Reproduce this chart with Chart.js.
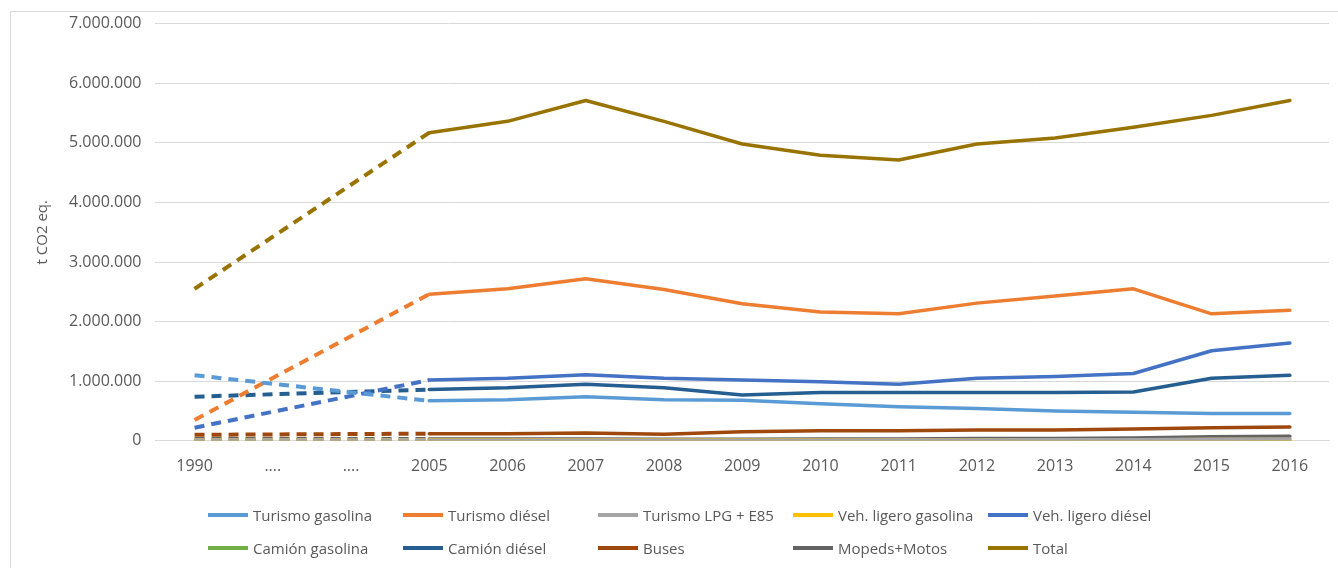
<!DOCTYPE html>
<html>
<head>
<meta charset="utf-8">
<script src="https://cdn.jsdelivr.net/npm/chart.js@4/dist/chart.umd.min.js"></script>
<style>
  html, body { margin: 0; padding: 0; background: #fff; }
  #wrap { position: relative; width: 1338px; height: 568px; overflow: hidden; }
  #frame { position: absolute; left: 10px; top: 11px; width: 1400px; height: 600px; border: 1px solid #d9d9d9; box-sizing: border-box; }
  #chartBox { position: absolute; left: 0; top: 0; width: 1338px; height: 568px; }
  #legend { position: absolute; left: 208px; top: 503px; width: 1120px; font-family: "Open Sans", sans-serif; font-size: 15px; color: #595959; }
  .item { position: absolute; white-space: nowrap; display: flex; align-items: center; height: 24px; }
  .swatch { display: inline-block; width: 40px; height: 4px; margin-right: 5px; }
</style>
</head>
<body>
<div id="wrap">
  <div id="frame"></div>
  <div id="chartBox"><canvas id="co2Chart"></canvas></div>
  <div id="legend"></div>
</div>
<script>
// Categories (the two "...." columns have no data, the line spans them dashed)
const years = ['1990', '....', '....', '2005', '2006', '2007', '2008', '2009', '2010', '2011', '2012', '2013', '2014', '2015', '2016'];

// t CO2 eq. per vehicle type
const turismoGasolina   = [1100000, null, null, 670000, 690000, 740000, 690000, 680000, 620000, 570000, 540000, 500000, 480000, 460000, 460000];
const turismoDiesel     = [350000, null, null, 2460000, 2550000, 2720000, 2540000, 2300000, 2160000, 2130000, 2310000, 2430000, 2550000, 2130000, 2190000];
const turismoLPG        = [8000, null, null, 8000, 9000, 10000, 10000, 10000, 10000, 12000, 14000, 16000, 18000, 25000, 30000];
const vehLigeroGasolina = [15000, null, null, 15000, 15000, 15000, 14000, 14000, 13000, 13000, 13000, 14000, 14000, 20000, 22000];
const vehLigeroDiesel   = [220000, null, null, 1020000, 1050000, 1110000, 1050000, 1020000, 990000, 950000, 1050000, 1080000, 1130000, 1510000, 1640000];
const camionGasolina    = [5000, null, null, 5000, 5000, 5000, 5000, 5000, 5000, 5000, 5000, 5000, 5000, 5000, 5000];
const camionDiesel      = [740000, null, null, 860000, 890000, 950000, 890000, 770000, 810000, 810000, 810000, 810000, 820000, 1050000, 1100000];
const buses             = [100000, null, null, 120000, 120000, 130000, 110000, 150000, 170000, 170000, 180000, 180000, 200000, 220000, 230000];
const mopedsMotos       = [30000, null, null, 30000, 30000, 30000, 25000, 25000, 30000, 30000, 40000, 40000, 45000, 70000, 75000];
const total             = [2550000, null, null, 5170000, 5360000, 5710000, 5360000, 4980000, 4790000, 4710000, 4980000, 5080000, 5260000, 5460000, 5710000];

const seriesLabels = ['Turismo gasolina', 'Turismo diésel', 'Turismo LPG + E85', 'Veh. ligero gasolina', 'Veh. ligero diésel',
                      'Camión gasolina', 'Camión diésel', 'Buses', 'Mopeds+Motos', 'Total'];
const seriesData = [turismoGasolina, turismoDiesel, turismoLPG, vehLigeroGasolina, vehLigeroDiesel,
                    camionGasolina, camionDiesel, buses, mopedsMotos, total];
const seriesColors = ['#5B9BD5', '#ED7D31', '#A5A5A5', '#FFC000', '#4472C4',
                      '#70AD47', '#255E91', '#9E480E', '#636363', '#997300'];

const yTicks = [0, 1000000, 2000000, 3000000, 4000000, 5000000, 6000000, 7000000];

// Format with dots as thousands separator
function fmt(v) {
    return String(v).replace(/\B(?=(\d{3})+(?!\d))/g, '.');
}

// dashed part = the span from 1990 to 2005
function isDashed(c) {
    return c.p1DataIndex <= 3;
}

Chart.defaults.font.family = '"Open Sans", sans-serif';
Chart.defaults.color = '#595959';

const ctx = document.getElementById('co2Chart').getContext('2d');
new Chart(ctx, {
    type: 'line',
    data: {
        labels: years,
        datasets: seriesData.map((d, i) => ({
            label: seriesLabels[i],
            data: d,
            borderColor: seriesColors[i],
            backgroundColor: seriesColors[i],
            borderWidth: 3.5,
            pointRadius: 0,
            tension: 0,
            spanGaps: true,
            borderCapStyle: 'round',
            borderJoinStyle: 'round',
            segment: {
                borderDash: c => isDashed(c) ? [10, 7] : undefined,
                borderCapStyle: c => isDashed(c) ? 'butt' : undefined,
                borderWidth: c => isDashed(c) ? 4 : undefined
            }
        }))
    },
    options: {
        responsive: true,
        maintainAspectRatio: false,
        animation: false,
        layout: { padding: { left: 30, right: 9, top: 14, bottom: 84 } },
        plugins: {
            legend: { display: false },
            tooltip: { enabled: false }
        },
        scales: {
            x: {
                offset: true,
                grid: { display: false, offset: true },
                border: { display: true, color: '#d9d9d9', width: 1 },
                ticks: { font: { size: 16 }, padding: 8, maxRotation: 0, autoSkip: false }
            },
            y: {
                min: 0,
                max: 7000000,
                afterBuildTicks: axis => { axis.ticks = yTicks.map(v => ({ value: v })); },
                grid: { color: '#d9d9d9', drawTicks: false },
                border: { display: false },
                ticks: { font: { size: 16 }, padding: 14, callback: v => fmt(v) },
                title: { display: true, text: 't CO2 eq.', font: { size: 15 }, padding: { bottom: 3 } }
            }
        }
    }
});

// Legend in Excel-like fixed columns
const legend = document.getElementById('legend');
const colX = [0, 195, 390, 585, 780];
seriesLabels.forEach((label, i) => {
    const el = document.createElement('div');
    el.className = 'item';
    el.style.left = colX[i % 5] + 'px';
    el.style.top = (Math.floor(i / 5) * 33) + 'px';
    el.innerHTML = '<span class="swatch" style="background:' + seriesColors[i] + '"></span>' + label;
    legend.appendChild(el);
});
</script>
</body>
</html>
